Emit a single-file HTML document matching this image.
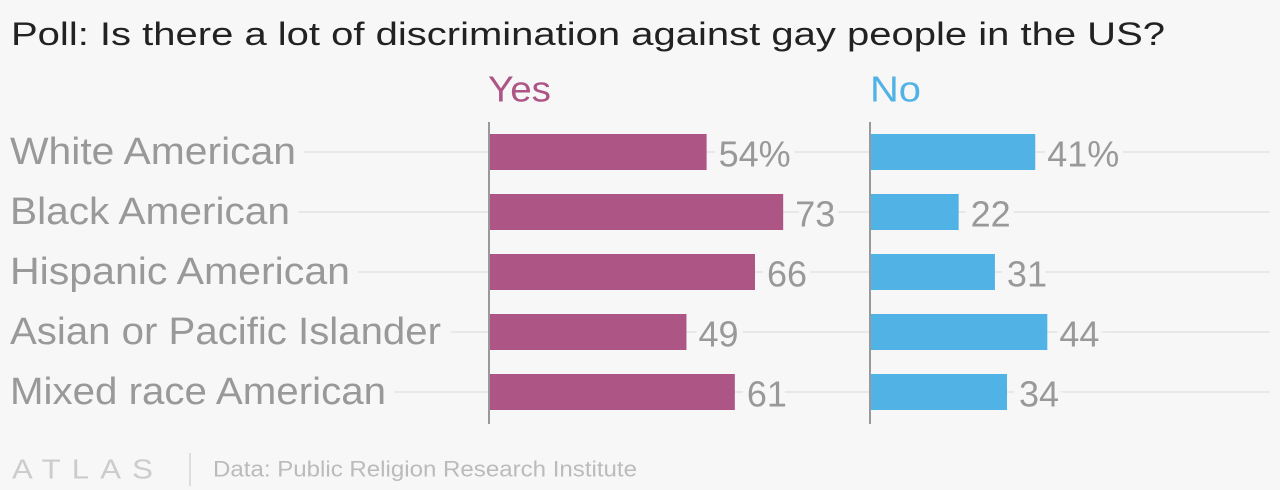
<!DOCTYPE html>
<html><head><meta charset="utf-8"><style>
body{margin:0;width:1280px;height:490px;background:#f7f7f7;font-family:"Liberation Sans",sans-serif;overflow:hidden;position:relative}
svg{position:absolute;left:0;top:0}
</style></head><body>
<svg id="chart" width="1280" height="490"></svg>
<script>
const categories=["White American","Black American","Hispanic American","Asian or Pacific Islander","Mixed race American"];
const yesValues=[54,73,66,49,61];
const noValues=[41,22,31,44,34];
const yesLabels=["54%","73","66","49","61"];
const noLabels=["41%","22","31","44","34"];
const labelWidths=[286,280,340,431,376];
const NS="http://www.w3.org/2000/svg";
const svg=document.getElementById('chart');
const scale=4.03, rowY=i=>152+60*i, barH=36;
const yesX=489, noX=870;
function el(t,a){const e=document.createElementNS(NS,t);for(const k in a)e.setAttribute(k,a[k]);svg.appendChild(e);return e;}
function txt(x,y,s,size,fill,name,len){const t=el('text',{x:x,y:y,'font-size':size,fill:fill,'font-family':'Liberation Sans, sans-serif','dominant-baseline':'central'});if(len){t.setAttribute('textLength',len);t.setAttribute('lengthAdjust','spacingAndGlyphs');}t.textContent=s;return t;}
txt(11,34,'Poll: Is there a lot of discrimination against gay people in the US?',32,'#222','chart-title',1154);
categories.forEach((c,i)=>{
  const y=rowY(i);
  const g=el('line',{x1:10,x2:1270,y1:y,y2:y,stroke:'#e8e8e8','stroke-width':2});
  
  
  const lab=txt(10,y,c,38,'#999','category-label',labelWidths[i]);
  lab.setAttribute('style','paint-order:stroke');
  lab.setAttribute('stroke','#f7f7f7');lab.setAttribute('stroke-width','20');
});
txt(488,89,'Yes',36,'#ad5685','yes-header',63);
txt(870,89,'No',36,'#51b2e5','no-header',51);
categories.forEach((c,i)=>{
  const y=rowY(i);
  const wy=yesValues[i]*scale;
  const b=el('rect',{x:yesX,y:y-barH/2,width:wy,height:barH,fill:'#ad5685'});
  
  
  const t1=txt(yesX+wy+12,y+2,yesLabels[i],36,'#999','yes-value');
  t1.setAttribute('stroke','#f7f7f7');t1.setAttribute('stroke-width','12');t1.setAttribute('style','paint-order:stroke');
  const wn=noValues[i]*scale;
  const n=el('rect',{x:noX,y:y-barH/2,width:wn,height:barH,fill:'#51b2e5'});
  
  
  const t2=txt(noX+wn+12,y+2,noLabels[i],36,'#999','no-value');
  t2.setAttribute('stroke','#f7f7f7');t2.setAttribute('stroke-width','12');t2.setAttribute('style','paint-order:stroke');
});
[yesX,noX].forEach(x=>{const a=el('line',{x1:x,x2:x,y1:122,y2:424,stroke:'#999','stroke-width':2});

});
txt(12,469,'ATLAS',28,'#ccc','atlas-logo',152).setAttribute('letter-spacing','10');
const sep=el('line',{x1:190,x2:190,y1:453,y2:486,stroke:'#ddd','stroke-width':2});


txt(213,469,'Data: Public Religion Research Institute',22,'#bbb','source-note',424);
</script>
</body></html>
